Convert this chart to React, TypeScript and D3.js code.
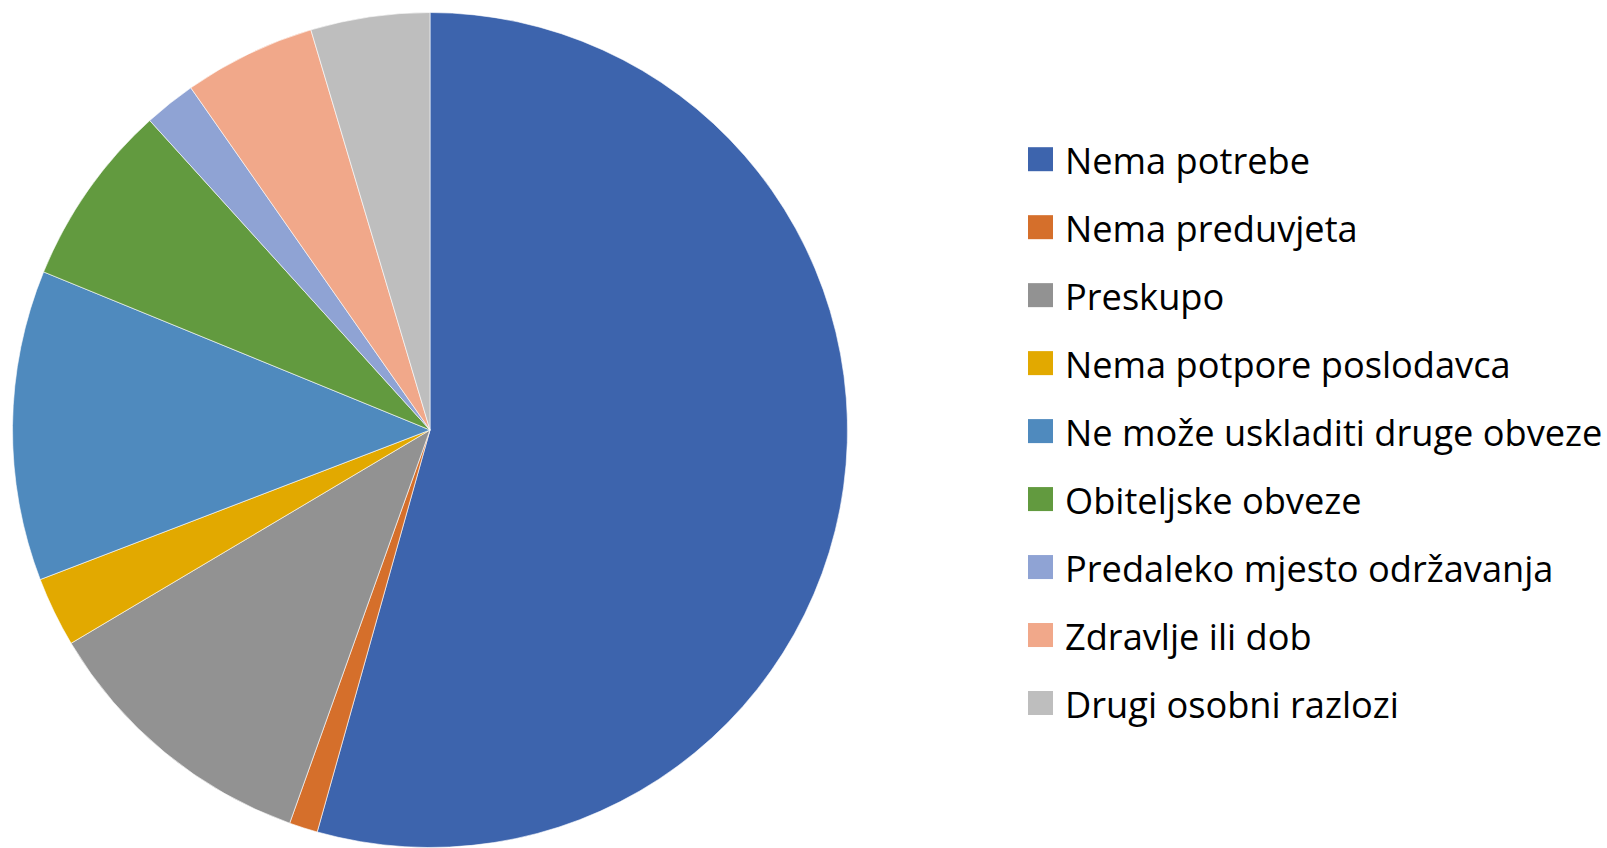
import React, { useEffect, useRef } from "react";
import * as d3 from "d3";

const categories = [
  "Nema potrebe",
  "Nema preduvjeta",
  "Preskupo",
  "Nema potpore poslodavca",
  "Ne može uskladiti druge obveze",
  "Obiteljske obveze",
  "Predaleko mjesto održavanja",
  "Zdravlje ili dob",
  "Drugi osobni razlozi",
];
const values = [54.3, 1.1, 11.0, 2.7, 12.0, 7.1, 2.0, 5.1, 4.6];
const colors = [
  "#3d64ad",
  "#d56f2b",
  "#929292",
  "#e2a900",
  "#4f8abe",
  "#629a3f",
  "#8fa3d4",
  "#f1a88a",
  "#bebebe",
];

const App = () => {
  const svgRef = useRef<SVGSVGElement>(null);

  useEffect(() => {
    document.body.style.margin = "0";
    const svg = d3.select(svgRef.current);
    svg.selectAll("*").remove();

    const width = 1607, height = 848;
    const cx = 430, cy = 430, radius = 417.5;

    const pie = d3.pie<number>().sort(null).value(d => d);
    const arc = d3.arc<d3.PieArcDatum<number>>().innerRadius(0).outerRadius(radius);

    svg.attr("width", width).attr("height", height);

    svg.append("g")
      .attr("transform", `translate(${cx},${cy})`)
      .selectAll("path")
      .data(pie(values))
      .join("path")
      .attr("d", arc)
      .attr("fill", (d, i) => colors[i])
      .attr("stroke", "#fff")
      .attr("stroke-width", 0.6);

    const legendY = d3.scalePoint<string>()
      .domain(categories)
      .range([159.2, 703]);

    const legend = svg.append("g")
      .selectAll("g")
      .data(categories)
      .join("g")
      .attr("transform", d => `translate(1028,${legendY(d)})`);

    legend.append("rect")
      .attr("x", 0)
      .attr("y", -12)
      .attr("width", 25)
      .attr("height", 24)
      .attr("fill", (d, i) => colors[i]);

    legend.append("text")
      .attr("x", 37)
      .attr("y", 14.8)
      .attr("font-family", "'Open Sans', Lato, sans-serif")
      .attr("font-size", 36.2)
      .attr("fill", "#000")
      .text(d => d);
  }, []);

  return <svg ref={svgRef} width={1607} height={848}></svg>;
};

export default App;
